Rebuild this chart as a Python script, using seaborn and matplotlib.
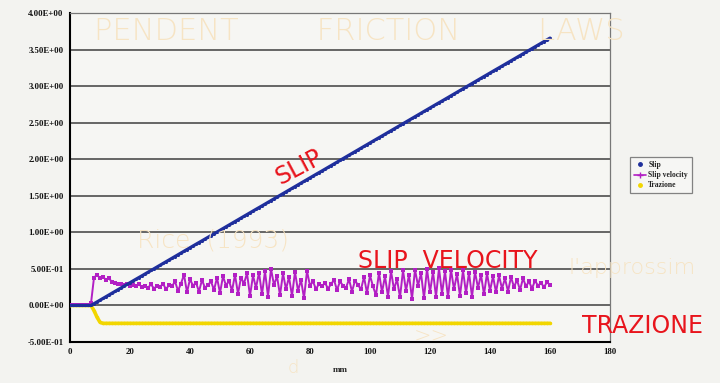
import matplotlib
matplotlib.use("Agg")
import matplotlib.pyplot as plt
from matplotlib.ticker import MultipleLocator, FuncFormatter
from matplotlib.lines import Line2D
import pandas as pd
import seaborn as sns

# ---- data (mm along the fault) ----
x_mm = list(range(0, 161))

slip = [0.0] * 8 + [
    0.024, 0.048, 0.072, 0.096, 0.120, 0.143, 0.167, 0.191, 0.215, 0.239,
    0.263, 0.287, 0.311, 0.335, 0.359, 0.382, 0.406, 0.430, 0.454, 0.478,
    0.502, 0.526, 0.550, 0.574, 0.598, 0.621, 0.645, 0.669, 0.693, 0.717,
    0.741, 0.765, 0.789, 0.813, 0.837, 0.860, 0.884, 0.908, 0.932, 0.956,
    0.980, 1.004, 1.028, 1.052, 1.076, 1.099, 1.123, 1.147, 1.171, 1.195,
    1.219, 1.243, 1.267, 1.291, 1.315, 1.338, 1.362, 1.386, 1.410, 1.434,
    1.458, 1.482, 1.506, 1.530, 1.554, 1.577, 1.601, 1.625, 1.649, 1.673,
    1.697, 1.721, 1.745, 1.769, 1.793, 1.816, 1.840, 1.864, 1.888, 1.912,
    1.936, 1.960, 1.984, 2.008, 2.032, 2.055, 2.079, 2.103, 2.127, 2.151,
    2.175, 2.199, 2.223, 2.247, 2.271, 2.294, 2.318, 2.342, 2.366, 2.390,
    2.414, 2.438, 2.462, 2.486, 2.510, 2.533, 2.557, 2.581, 2.605, 2.629,
    2.653, 2.677, 2.701, 2.725, 2.749, 2.772, 2.796, 2.820, 2.844, 2.868,
    2.892, 2.916, 2.940, 2.964, 2.988, 3.011, 3.035, 3.059, 3.083, 3.107,
    3.131, 3.155, 3.179, 3.203, 3.227, 3.250, 3.274, 3.298, 3.322, 3.346,
    3.370, 3.394, 3.418, 3.442, 3.466, 3.489, 3.513, 3.537, 3.561, 3.585,
    3.609, 3.633, 3.657,
]

slip_velocity = [
    0.00, 0.00, 0.00, 0.00, 0.00, 0.00, 0.00, 0.03, 0.38, 0.42,
    0.37, 0.39, 0.35, 0.37, 0.32, 0.31, 0.29, 0.30, 0.28, 0.29,
    0.27, 0.28, 0.26, 0.29, 0.25, 0.27, 0.24, 0.29, 0.23, 0.27,
    0.25, 0.30, 0.22, 0.28, 0.26, 0.33, 0.20, 0.30, 0.42, 0.18,
    0.36, 0.27, 0.31, 0.19, 0.35, 0.24, 0.28, 0.33, 0.21, 0.38,
    0.17, 0.40, 0.27, 0.34, 0.20, 0.42, 0.16, 0.38, 0.30, 0.44,
    0.13, 0.41, 0.24, 0.45, 0.15, 0.47, 0.12, 0.50, 0.28, 0.40,
    0.14, 0.44, 0.22, 0.39, 0.13, 0.46, 0.20, 0.35, 0.10, 0.47,
    0.27, 0.33, 0.22, 0.30, 0.26, 0.31, 0.23, 0.29, 0.35, 0.21,
    0.33, 0.27, 0.24, 0.36, 0.19, 0.34, 0.28, 0.22, 0.39, 0.17,
    0.41, 0.26, 0.14, 0.45, 0.18, 0.40, 0.12, 0.47, 0.22, 0.36,
    0.11, 0.48, 0.20, 0.42, 0.09, 0.49, 0.27, 0.44, 0.10, 0.50,
    0.18, 0.46, 0.12, 0.51, 0.16, 0.47, 0.11, 0.49, 0.22, 0.43,
    0.13, 0.48, 0.17, 0.45, 0.12, 0.46, 0.24, 0.42, 0.15, 0.44,
    0.20, 0.40, 0.18, 0.41, 0.23, 0.37, 0.19, 0.39, 0.25, 0.35,
    0.21, 0.37, 0.26, 0.33, 0.23, 0.34, 0.27, 0.31, 0.25, 0.32,
    0.28,
]

trazione = [0.00, 0.00, 0.00, 0.00, 0.00, 0.00, 0.00, 0.00, -0.07, -0.16, -0.23] + [
    -0.245, -0.245, -0.245, -0.245, -0.245, -0.245, -0.245, -0.245, -0.245, -0.245,
    -0.245, -0.245, -0.245, -0.245, -0.245, -0.245, -0.245, -0.245, -0.245, -0.245,
    -0.245, -0.245, -0.245, -0.245, -0.245, -0.245, -0.245, -0.245, -0.245, -0.245,
    -0.245, -0.245, -0.245, -0.245, -0.245, -0.245, -0.245, -0.245, -0.245, -0.245,
    -0.245, -0.245, -0.245, -0.245, -0.245, -0.245, -0.245, -0.245, -0.245, -0.245,
    -0.245, -0.245, -0.245, -0.245, -0.245, -0.245, -0.245, -0.245, -0.245, -0.245,
    -0.245, -0.245, -0.245, -0.245, -0.245, -0.245, -0.245, -0.245, -0.245, -0.245,
    -0.245, -0.245, -0.245, -0.245, -0.245, -0.245, -0.245, -0.245, -0.245, -0.245,
    -0.245, -0.245, -0.245, -0.245, -0.245, -0.245, -0.245, -0.245, -0.245, -0.245,
    -0.245, -0.245, -0.245, -0.245, -0.245, -0.245, -0.245, -0.245, -0.245, -0.245,
    -0.245, -0.245, -0.245, -0.245, -0.245, -0.245, -0.245, -0.245, -0.245, -0.245,
    -0.245, -0.245, -0.245, -0.245, -0.245, -0.245, -0.245, -0.245, -0.245, -0.245,
    -0.245, -0.245, -0.245, -0.245, -0.245, -0.245, -0.245, -0.245, -0.245, -0.245,
    -0.245, -0.245, -0.245, -0.245, -0.245, -0.245, -0.245, -0.245, -0.245, -0.245,
    -0.245, -0.245, -0.245, -0.245, -0.245, -0.245, -0.245, -0.245, -0.245, -0.245,
]

series_names = ["Slip", "Slip velocity", "Trazione"]
series_colors = ["#1f2f9c", "#b21fc4", "#f2d600"]
x_ticks = [0, 20, 40, 60, 80, 100, 120, 140, 160, 180]
y_ticks = [-0.5, 0.0, 0.5, 1.0, 1.5, 2.0, 2.5, 3.0, 3.5, 4.0]

df = pd.DataFrame({
    "mm": x_mm * 3,
    "value": slip + slip_velocity + trazione,
    "series": [series_names[0]] * len(x_mm)
              + [series_names[1]] * len(x_mm)
              + [series_names[2]] * len(x_mm),
})

sns.set_theme(style="white")
plt.rcParams["font.family"] = ["Liberation Serif", "DejaVu Serif"]

paper = "#f3f3f0"
fig = plt.figure(figsize=(7.2, 3.83), dpi=100, facecolor=paper)
ax = fig.add_axes([70 / 720, 41 / 383, 540 / 720, 329 / 383])
ax.set_facecolor("#f6f6f3")

# faint pencil notes on the sheet behind the chart
faint = "#f6e4c4"
note = dict(color=faint, family="DejaVu Sans", fontweight="light", zorder=0)
fig.text(0.13, 0.895, "PENDENT        FRICTION        LAWS", fontsize=22, **note)
fig.text(0.19, 0.355, "Rice  (1993)", fontsize=18, **note)
fig.text(0.79, 0.285, "l'approssim", fontsize=16, **note)
fig.text(0.575, 0.105, ">>", fontsize=15, **note)
fig.text(0.40, 0.025, "d", fontsize=13, **note)

# horizontal grid
for yv in y_ticks[1:]:
    ax.axhline(yv, color="#5a5a5a", lw=1.3, zorder=1)

palette = dict(zip(series_names, series_colors))
sns.lineplot(data=df[df.series == "Trazione"], x="mm", y="value", hue="series",
             palette=palette, lw=2.6, marker="o", markersize=2.5,
             markeredgewidth=0, ax=ax, legend=False, zorder=3)
sns.lineplot(data=df[df.series == "Slip velocity"], x="mm", y="value", hue="series",
             palette=palette, lw=1.4, marker="s", markersize=2.4,
             markeredgewidth=0, ax=ax, legend=False, zorder=4)
sns.lineplot(data=df[df.series == "Slip"], x="mm", y="value", hue="series",
             palette=palette, lw=2.3, marker="o", markersize=2.2,
             markeredgewidth=0, ax=ax, legend=False, zorder=5)

ax.set_xlim(0, 180)
ax.set_ylim(-0.5, 4.0)
ax.set_xticks(x_ticks)
ax.set_yticks(y_ticks)
ax.xaxis.set_minor_locator(MultipleLocator(4))
ax.yaxis.set_minor_locator(MultipleLocator(0.1))
ax.yaxis.set_major_formatter(FuncFormatter(lambda v, p: f"{v:.2E}"))
ax.tick_params(axis="both", which="major", direction="inout", length=5,
               width=1.0, labelsize=6.3, pad=2, color="black", labelcolor="#111111")
ax.tick_params(axis="both", which="minor", direction="inout", length=3,
               width=0.8, color="black")
for lab in ax.get_xticklabels() + ax.get_yticklabels():
    lab.set_fontweight("bold")
ax.set_xlabel("mm", fontsize=6.5, fontweight="bold", labelpad=7)
ax.set_ylabel("")

for side in ["left", "bottom"]:
    ax.spines[side].set_color("black")
    ax.spines[side].set_linewidth(1.5)
for side in ["top", "right"]:
    ax.spines[side].set_color("#777777")
    ax.spines[side].set_linewidth(0.9)

# legend to the right of the plot area
handles = [
    Line2D([], [], color=series_colors[0], lw=0, marker="o", markersize=2.5),
    Line2D([], [], color=series_colors[1], lw=1.2, marker="+", markersize=4),
    Line2D([], [], color=series_colors[2], lw=0, marker="o", markersize=2.5),
]
leg = ax.legend(handles, series_names, loc="center left",
                bbox_to_anchor=(1.03, 0.507), frameon=True, fancybox=False,
                prop={"family": "Liberation Serif", "weight": "bold", "size": 5.5},
                handlelength=1.6, handletextpad=0.3, borderpad=0.5,
                labelspacing=0.3)
leg.get_frame().set_edgecolor("#666666")
leg.get_frame().set_linewidth(0.9)
leg.get_frame().set_facecolor("#f8f8f6")

# red handwritten labels
red = "#e8141c"
hand = dict(color=red, family="DejaVu Sans", fontweight="normal", zorder=6)
ax.text(0.425, 0.53, "SLIP", transform=ax.transAxes, fontsize=17,
        rotation=28, ha="center", va="center", **hand)
ax.text(0.70, 0.245, "SLIP  VELOCITY", transform=ax.transAxes, fontsize=17,
        ha="center", va="center", **hand)
fig.text(0.893, 0.148, "TRAZIONE", fontsize=17, ha="center", va="center", **hand)

fig.savefig("out.png", dpi=100, facecolor=paper)
